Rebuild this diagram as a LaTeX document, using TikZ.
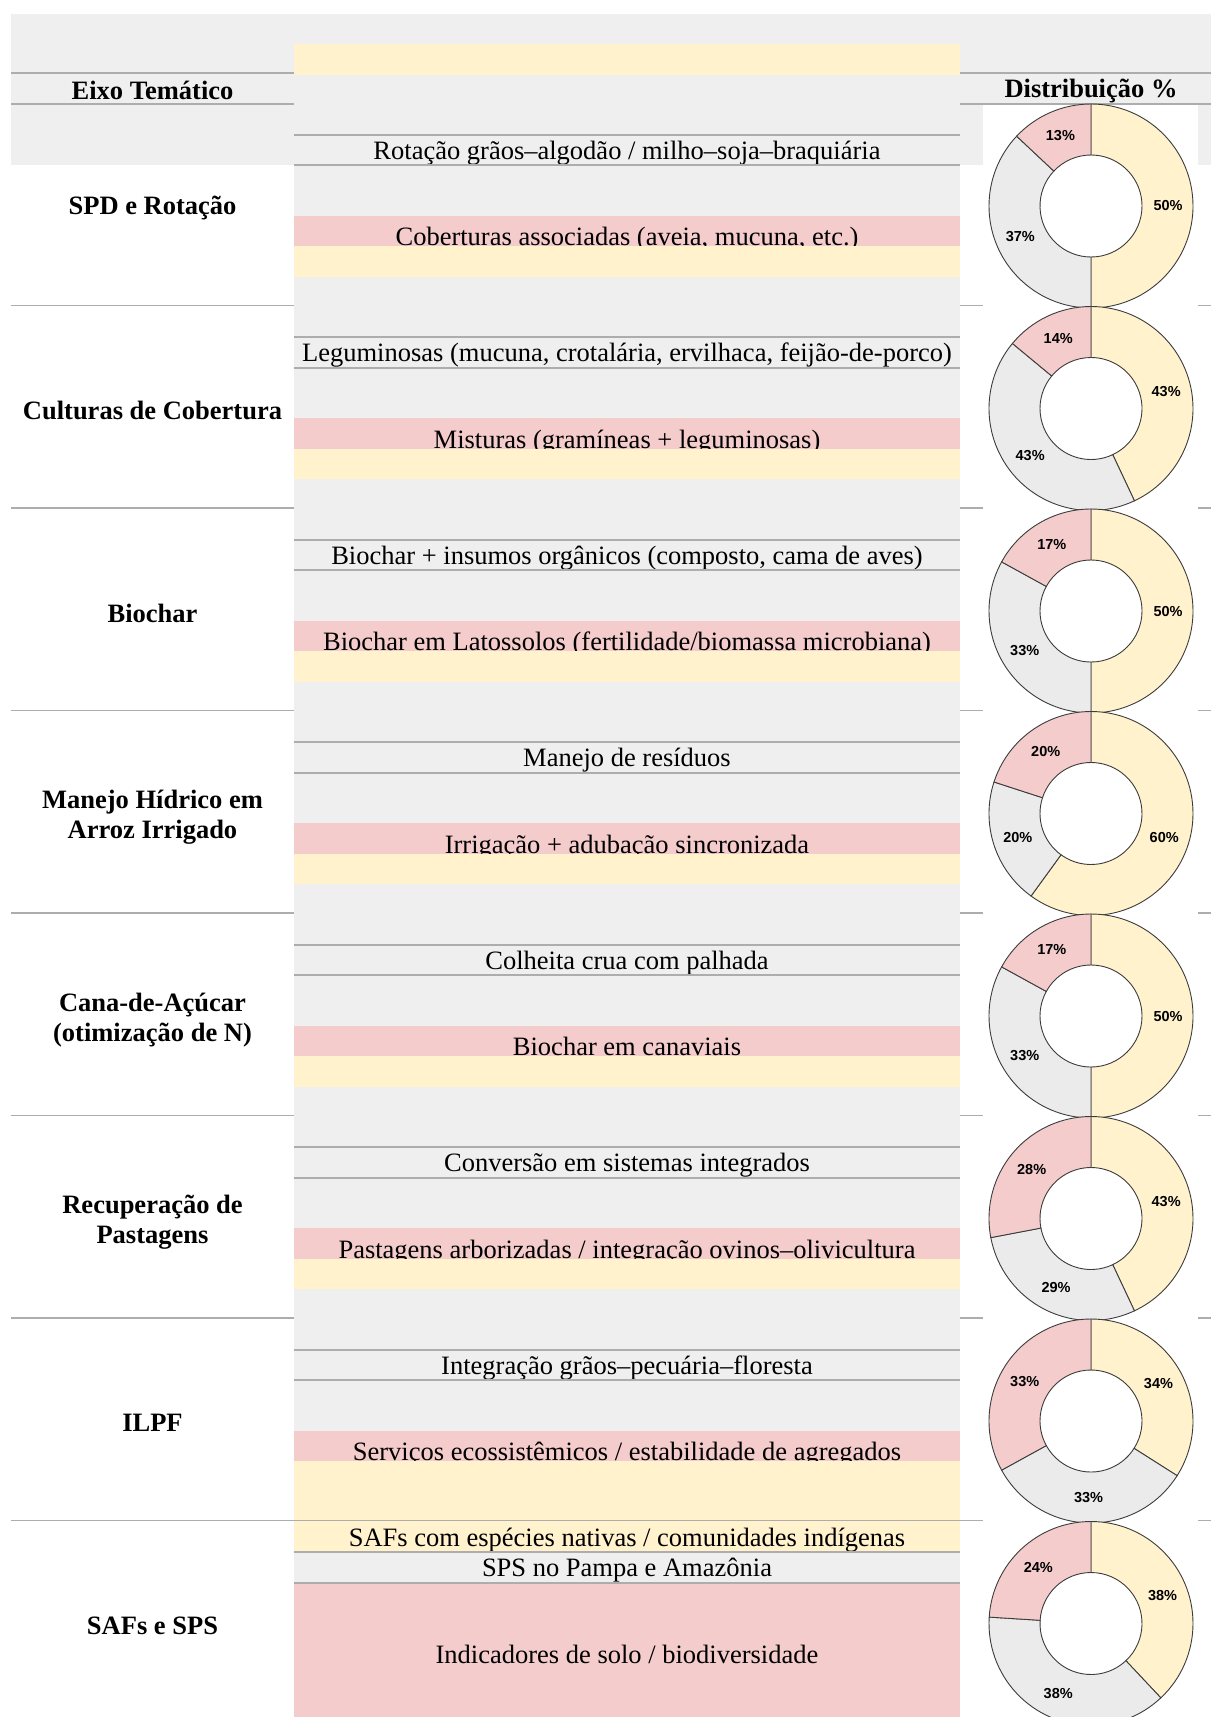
\documentclass[tikz,border=0pt]{standalone}
\usepackage{fontspec}
\setmainfont{Liberation Serif}
\newfontfamily\pctsans{Liberation Sans}

\definecolor{cellgray}{HTML}{EFEFEF}
\definecolor{bandpink}{HTML}{F4CCCC}
\definecolor{bandyellow}{HTML}{FFF2CC}
\definecolor{gridgray}{HTML}{ADADAD}
\definecolor{ringgray}{HTML}{EBEBEB}
\definecolor{ringline}{HTML}{3C3C3C}

\newcommand{\cellfont}{\fontsize{26.5}{30}\selectfont}
\newcommand{\themefont}{\bfseries\fontsize{26.5}{30}\selectfont}
\newcommand{\pctfont}{\pctsans\bfseries\fontsize{14.5}{16}\selectfont}

% donut: #1 name, #2 centre y, #3 yellow, #4 gray, #5 pink
\newcommand{\donut}[5]{%
  \begin{scope}[shift={(1091,#2)}]
    \pgfmathsetmacro{\angA}{90-3.6*#3}
    \pgfmathsetmacro{\angB}{90-3.6*(#3+#4)}
    \filldraw[ring,fill=bandyellow] (90:102) arc[start angle=90,end angle=\angA,radius=102pt]
        -- (\angA:51) arc[start angle=\angA,end angle=90,radius=51pt] -- cycle;
    \filldraw[ring,fill=ringgray] (\angA:102) arc[start angle=\angA,end angle=\angB,radius=102pt]
        -- (\angB:51) arc[start angle=\angB,end angle=\angA,radius=51pt] -- cycle;
    \filldraw[ring,fill=bandpink] (\angB:102) arc[start angle=\angB,end angle=-270,radius=102pt]
        -- (-270:51) arc[start angle=-270,end angle=\angB,radius=51pt] -- cycle;
    \node[pct] (#1y) at ({(90+\angA)/2}:77) {#3\%};
    \node[pct] (#1g) at ({(\angA+\angB)/2}:77) {#4\%};
    \node[pct] (#1p) at ({(\angB-270)/2}:77) {#5\%};
  \end{scope}}

\begin{document}
\begin{tikzpicture}[x=1pt,y=1pt,
    cell/.style={font=\cellfont,anchor=base,inner sep=0pt},
    theme/.style={font=\themefont,align=center,inner sep=0pt,yshift=-2pt},
    pct/.style={font=\pctfont,inner sep=0pt},
    rowline/.style={draw=gridgray,line width=1.8pt},
    ring/.style={draw=ringline,line width=0.9pt}]
    \useasboundingbox (0,0) rectangle (1211,-1717);

    %%%%%%%%%%%%%%%%%%%%%%%%%%%%%%%%%%%
    % column backgrounds
    \fill[cellgray] (11,-14) rectangle (294,-165);
    \fill[cellgray] (294,-14) rectangle (960,-1717);
    \fill[cellgray] (960,-14) rectangle (1211,-165);
    \fill[white] (983,-104) rectangle (1198,-1717);
    \fill[bandyellow] (294,-44.2) rectangle (960,-74.7);

    % header
    \node[theme] (eixo) at (152.5,-88.5) {Eixo Temático};
    \node[theme] (dist) at (1091,-88.5) {Distribuição \%};
    \draw[rowline] (11,-73) -- (294,-73) (960,-73) -- (1211,-73);
    \draw[rowline] (11,-104) -- (294,-104) (960,-104) -- (1211,-104);
    %%%%%%%%%%%%%%%%%%%%%%%%%%%%%%%%%%%

    %%%%%%%%%%%%%%%%%%%%%%%%%%%%%%%%%%%
    % SPD e Rotacao
    \fill[bandpink] (294,-215.7) rectangle (960,-246.2);
    \node[cell] (cob) at (627,-245.7) {Coberturas associadas (aveia, mucuna, etc.)};
    \fill[bandyellow] (294,-246.2) rectangle (960,-276.7);
    \node[cell] (rot) at (627,-159.3) {Rotação grãos–algodão / milho–soja–braquiária};
    \draw[rowline] (294,-134.7) -- (960,-134.7) (294,-165.2) -- (960,-165.2);
    \node[theme] (spd) at (152.5,-206) {SPD e Rotação};
    \draw[rowline] (11,-305.5) -- (294,-305.5) (960,-305.5) -- (983,-305.5) (1198,-305.5) -- (1211,-305.5);

    % Culturas de Cobertura
    \fill[bandpink] (294,-418.2) rectangle (960,-448.7);
    \node[cell] (mis) at (627,-448.2) {Misturas (gramíneas + leguminosas)};
    \fill[bandyellow] (294,-448.7) rectangle (960,-479.2);
    \node[cell] (leg) at (627,-361.8) {Leguminosas (mucuna, crotalária, ervilhaca, feijão-de-porco)};
    \draw[rowline] (294,-337.2) -- (960,-337.2) (294,-367.7) -- (960,-367.7);
    \node[theme] (cult) at (152.5,-408.5) {Culturas de Cobertura};
    \draw[rowline] (11,-508) -- (294,-508) (960,-508) -- (983,-508) (1198,-508) -- (1211,-508);

    % Biochar
    \fill[bandpink] (294,-620.7) rectangle (960,-651.2);
    \node[cell] (lat) at (627,-650.7) {Biochar em Latossolos (fertilidade/biomassa microbiana)};
    \fill[bandyellow] (294,-651.2) rectangle (960,-681.7);
    \node[cell] (ins) at (627,-564.3) {Biochar + insumos orgânicos (composto, cama de aves)};
    \draw[rowline] (294,-539.7) -- (960,-539.7) (294,-570.2) -- (960,-570.2);
    \node[theme] (bio) at (152.5,-611) {Biochar};
    \draw[rowline] (11,-710.5) -- (294,-710.5) (960,-710.5) -- (983,-710.5) (1198,-710.5) -- (1211,-710.5);

    % Manejo Hidrico
    \fill[bandpink] (294,-823.2) rectangle (960,-853.7);
    \node[cell] (irr) at (627,-853.2) {Irrigação + adubação sincronizada};
    \fill[bandyellow] (294,-853.7) rectangle (960,-884.2);
    \node[cell] (res) at (627,-766.8) {Manejo de resíduos};
    \draw[rowline] (294,-742.2) -- (960,-742.2) (294,-772.7) -- (960,-772.7);
    \node[theme] (arroz) at (152.5,-815.5) {Manejo Hídrico em\\Arroz Irrigado};
    \draw[rowline] (11,-913) -- (294,-913) (960,-913) -- (983,-913) (1198,-913) -- (1211,-913);

    % Cana-de-Acucar
    \fill[bandpink] (294,-1025.7) rectangle (960,-1056.2);
    \node[cell] (canav) at (627,-1055.7) {Biochar em canaviais};
    \fill[bandyellow] (294,-1056.2) rectangle (960,-1086.7);
    \node[cell] (palha) at (627,-969.3) {Colheita crua com palhada};
    \draw[rowline] (294,-944.7) -- (960,-944.7) (294,-975.2) -- (960,-975.2);
    \node[theme] (cana) at (152.5,-1018) {Cana-de-Açúcar\\(otimização de N)};
    \draw[rowline] (11,-1115.5) -- (294,-1115.5) (960,-1115.5) -- (983,-1115.5) (1198,-1115.5) -- (1211,-1115.5);

    % Recuperacao de Pastagens
    \fill[bandpink] (294,-1228.2) rectangle (960,-1258.7);
    \node[cell] (arbo) at (627,-1258.2) {Pastagens arborizadas / integração ovinos–olivicultura};
    \fill[bandyellow] (294,-1258.7) rectangle (960,-1289.2);
    \node[cell] (conv) at (627,-1171.8) {Conversão em sistemas integrados};
    \draw[rowline] (294,-1147.2) -- (960,-1147.2) (294,-1177.7) -- (960,-1177.7);
    \node[theme] (past) at (152.5,-1220.5) {Recuperação de\\Pastagens};
    \draw[rowline] (11,-1318) -- (294,-1318) (960,-1318) -- (983,-1318) (1198,-1318) -- (1211,-1318);

    % ILPF
    \fill[bandpink] (294,-1430.7) rectangle (960,-1461.2);
    \node[cell] (serv) at (627,-1460.7) {Serviços ecossistêmicos / estabilidade de agregados};
    \fill[bandyellow] (294,-1461.2) rectangle (960,-1552.2);
    \node[cell] (gpf) at (627,-1374.3) {Integração grãos–pecuária–floresta};
    \draw[rowline] (294,-1349.7) -- (960,-1349.7) (294,-1380.2) -- (960,-1380.2);
    \node[theme] (ilpf) at (152.5,-1421) {ILPF};
    \draw[rowline] (11,-1520.5) -- (983,-1520.5) (1198,-1520.5) -- (1211,-1520.5);

    % SAFs e SPS
    \fill[bandpink] (294,-1582.7) rectangle (960,-1717);
    \node[cell] (nat) at (627,-1546) {SAFs com espécies nativas / comunidades indígenas};
    \node[cell] (sps) at (627,-1576.8) {SPS no Pampa e Amazônia};
    \node[cell] (ind) at (627,-1663) {Indicadores de solo / biodiversidade};
    \draw[rowline] (294,-1552.2) -- (960,-1552.2) (294,-1582.7) -- (960,-1582.7);
    \node[theme] (saf) at (152.5,-1623.5) {SAFs e SPS};
    %%%%%%%%%%%%%%%%%%%%%%%%%%%%%%%%%%%

    %%%%%%%%%%%%%%%%%%%%%%%%%%%%%%%%%%%
    % distribution rings
    \donut{dspd}{-206}{50}{37}{13}
    \donut{dcult}{-408.5}{43}{43}{14}
    \donut{dbio}{-611}{50}{33}{17}
    \donut{darroz}{-813.5}{60}{20}{20}
    \donut{dcana}{-1016}{50}{33}{17}
    \donut{dpast}{-1218.5}{43}{29}{28}
    \donut{dilpf}{-1421}{34}{33}{33}
    \donut{dsaf}{-1623.5}{38}{38}{24}
    %%%%%%%%%%%%%%%%%%%%%%%%%%%%%%%%%%%
\end{tikzpicture}
\end{document}
